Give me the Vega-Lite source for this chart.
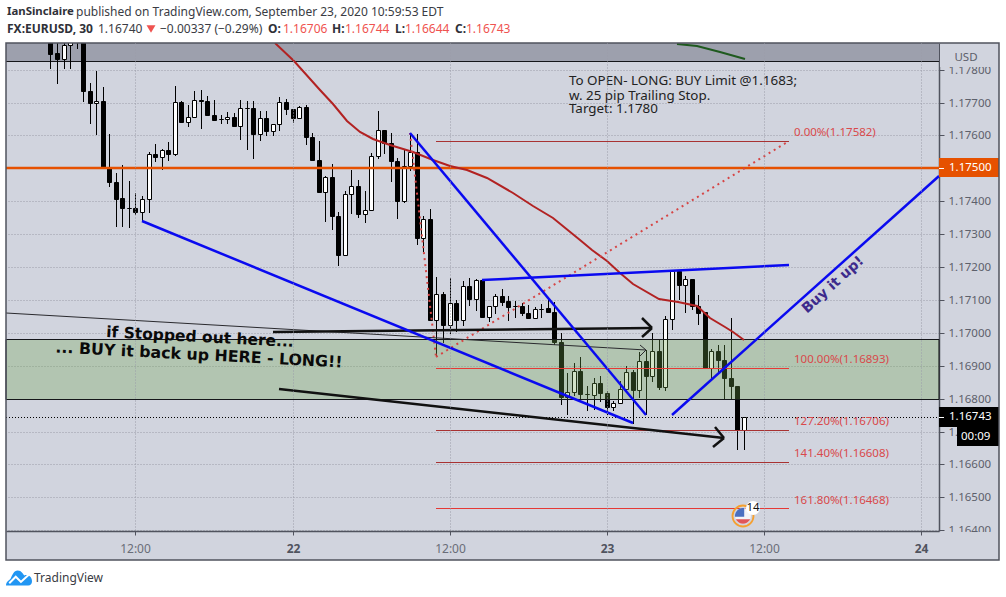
{"$schema":"https://vega.github.io/schema/vega-lite/v6.json","width":933,"height":488,"autosize":"none","padding":{"left":6,"top":43,"right":67,"bottom":66},"background":"#d1d4de","view":{"stroke":null,"fill":null},"datasets":{"white":[{"t":1.646,"t2":78.52,"p":1.180116,"p2":1.178809},{"t":1.646,"t2":78.52,"p":1.163094,"p2":1.16197},{"t":1.646,"t2":2.105,"p":1.180116,"p2":1.16197},{"t":77.99,"t2":78.52,"p":1.180116,"p2":1.16197}],"covers":[{"t":73.48,"t2":77.9,"p":1.17879,"p2":1.17809},{"t":73.48,"t2":77.9,"p":1.16396,"p2":1.16314}],"candles":[{"t":5.5,"o":1.17922,"h":1.17937,"l":1.17803,"c":1.17847},{"t":6,"o":1.17849,"h":1.17891,"l":1.17755,"c":1.17831},{"t":6.5,"o":1.17833,"h":1.17892,"l":1.17802,"c":1.17874},{"t":7,"o":1.17874,"h":1.17907,"l":1.17802,"c":1.17892},{"t":7.5,"o":1.17895,"h":1.17922,"l":1.17864,"c":1.179},{"t":8,"o":1.17892,"h":1.17907,"l":1.17701,"c":1.17734},{"t":8.5,"o":1.17735,"h":1.17758,"l":1.17634,"c":1.17698},{"t":9,"o":1.17698,"h":1.17797,"l":1.176,"c":1.17705},{"t":9.5,"o":1.17705,"h":1.17748,"l":1.17501,"c":1.17501},{"t":10,"o":1.17501,"h":1.17603,"l":1.17442,"c":1.17458},{"t":10.5,"o":1.17459,"h":1.17487,"l":1.17321,"c":1.17408},{"t":11,"o":1.1741,"h":1.17511,"l":1.17321,"c":1.17378},{"t":11.5,"o":1.1738,"h":1.17461,"l":1.17318,"c":1.17379},{"t":12,"o":1.1738,"h":1.17425,"l":1.17359,"c":1.17366},{"t":12.5,"o":1.17366,"h":1.17417,"l":1.17339,"c":1.17407},{"t":13,"o":1.17407,"h":1.17549,"l":1.17363,"c":1.17545},{"t":13.5,"o":1.17545,"h":1.17574,"l":1.17518,"c":1.17534},{"t":14,"o":1.17535,"h":1.1756,"l":1.17496,"c":1.17556},{"t":14.5,"o":1.17556,"h":1.1758,"l":1.17523,"c":1.17543},{"t":15,"o":1.17544,"h":1.17751,"l":1.17537,"c":1.17702},{"t":15.5,"o":1.17702,"h":1.17706,"l":1.1764,"c":1.1764},{"t":16,"o":1.1764,"h":1.17691,"l":1.17625,"c":1.17656},{"t":16.5,"o":1.17656,"h":1.17736,"l":1.17656,"c":1.17708},{"t":17,"o":1.17708,"h":1.17739,"l":1.17621,"c":1.17705},{"t":17.5,"o":1.17705,"h":1.1772,"l":1.17661,"c":1.17661},{"t":18,"o":1.17662,"h":1.17709,"l":1.17648,"c":1.17648},{"t":18.5,"o":1.1765,"h":1.17662,"l":1.17636,"c":1.17649},{"t":19,"o":1.1765,"h":1.1767,"l":1.17636,"c":1.17656},{"t":19.5,"o":1.17657,"h":1.17668,"l":1.17628,"c":1.17628},{"t":20,"o":1.17628,"h":1.17709,"l":1.17587,"c":1.17684},{"t":20.5,"o":1.17684,"h":1.17704,"l":1.17557,"c":1.17683},{"t":21,"o":1.17684,"h":1.17704,"l":1.17527,"c":1.17603},{"t":21.5,"o":1.17605,"h":1.17673,"l":1.17582,"c":1.17653},{"t":22,"o":1.17654,"h":1.17673,"l":1.17599,"c":1.17612},{"t":22.5,"o":1.17613,"h":1.17635,"l":1.17599,"c":1.17635},{"t":23,"o":1.17635,"h":1.17717,"l":1.17613,"c":1.17702},{"t":23.5,"o":1.17702,"h":1.17711,"l":1.17661,"c":1.17679},{"t":24,"o":1.17681,"h":1.17681,"l":1.17637,"c":1.17652},{"t":24.5,"o":1.17652,"h":1.1769,"l":1.17652,"c":1.17687},{"t":25,"o":1.17687,"h":1.17691,"l":1.1757,"c":1.17594},{"t":25.5,"o":1.17596,"h":1.17608,"l":1.17524,"c":1.17524},{"t":26,"o":1.17526,"h":1.17584,"l":1.17425,"c":1.17427},{"t":26.5,"o":1.17427,"h":1.17476,"l":1.17336,"c":1.17474},{"t":27,"o":1.17474,"h":1.17514,"l":1.17312,"c":1.17354},{"t":27.5,"o":1.17356,"h":1.17368,"l":1.17202,"c":1.17236},{"t":28,"o":1.17236,"h":1.1743,"l":1.17236,"c":1.17422},{"t":28.5,"o":1.17422,"h":1.17496,"l":1.17361,"c":1.17447},{"t":29,"o":1.17447,"h":1.17466,"l":1.17349,"c":1.1736},{"t":29.5,"o":1.1736,"h":1.17431,"l":1.17333,"c":1.17374},{"t":30,"o":1.17373,"h":1.17547,"l":1.17369,"c":1.17538},{"t":30.5,"o":1.17538,"h":1.17675,"l":1.17529,"c":1.17617},{"t":31,"o":1.17617,"h":1.17617,"l":1.17542,"c":1.17576},{"t":31.5,"o":1.17577,"h":1.17608,"l":1.17458,"c":1.17521},{"t":32,"o":1.17523,"h":1.17532,"l":1.17345,"c":1.174},{"t":32.5,"o":1.174,"h":1.17559,"l":1.17394,"c":1.17507},{"t":33,"o":1.17507,"h":1.17608,"l":1.17491,"c":1.1755},{"t":33.5,"o":1.1755,"h":1.17603,"l":1.17267,"c":1.17288},{"t":34,"o":1.17288,"h":1.17356,"l":1.17246,"c":1.17346},{"t":34.5,"o":1.17346,"h":1.17377,"l":1.17038,"c":1.17038},{"t":35,"o":1.17038,"h":1.1717,"l":1.16925,"c":1.17118},{"t":35.5,"o":1.17118,"h":1.17125,"l":1.16969,"c":1.17025},{"t":36,"o":1.17025,"h":1.17167,"l":1.16995,"c":1.17091},{"t":36.5,"o":1.17091,"h":1.17101,"l":1.17002,"c":1.1704},{"t":37,"o":1.1704,"h":1.17158,"l":1.17022,"c":1.17143},{"t":37.5,"o":1.17143,"h":1.17167,"l":1.17081,"c":1.17104},{"t":38,"o":1.17104,"h":1.17164,"l":1.17065,"c":1.17161},{"t":38.5,"o":1.17161,"h":1.17161,"l":1.17047,"c":1.17047},{"t":39,"o":1.17047,"h":1.17083,"l":1.17032,"c":1.17081},{"t":39.5,"o":1.17081,"h":1.17119,"l":1.17058,"c":1.17112},{"t":40,"o":1.17112,"h":1.17134,"l":1.17081,"c":1.17094},{"t":40.5,"o":1.17097,"h":1.17111,"l":1.17035,"c":1.17078},{"t":41,"o":1.17081,"h":1.17097,"l":1.17045,"c":1.1708},{"t":41.5,"o":1.17082,"h":1.17091,"l":1.1705,"c":1.17059},{"t":42,"o":1.1706,"h":1.17086,"l":1.17044,"c":1.17044},{"t":42.5,"o":1.17044,"h":1.17077,"l":1.17044,"c":1.17071},{"t":43,"o":1.17072,"h":1.17089,"l":1.17044,"c":1.17071},{"t":43.5,"o":1.17074,"h":1.17106,"l":1.17062,"c":1.17062},{"t":44,"o":1.17064,"h":1.17093,"l":1.16964,"c":1.16971},{"t":44.5,"o":1.16972,"h":1.16998,"l":1.16782,"c":1.16805},{"t":45,"o":1.16805,"h":1.16878,"l":1.16751,"c":1.16819},{"t":45.5,"o":1.16819,"h":1.16908,"l":1.16809,"c":1.16884},{"t":46,"o":1.16884,"h":1.16927,"l":1.16799,"c":1.16813},{"t":46.5,"o":1.16814,"h":1.16837,"l":1.16761,"c":1.16813},{"t":47,"o":1.16811,"h":1.16862,"l":1.16764,"c":1.16848},{"t":47.5,"o":1.16848,"h":1.1687,"l":1.16789,"c":1.16816},{"t":48,"o":1.16817,"h":1.16822,"l":1.16749,"c":1.16774},{"t":48.5,"o":1.16774,"h":1.16793,"l":1.16763,"c":1.16787},{"t":49,"o":1.16787,"h":1.16853,"l":1.16787,"c":1.16829},{"t":49.5,"o":1.16829,"h":1.16898,"l":1.16829,"c":1.16881},{"t":50,"o":1.16882,"h":1.16886,"l":1.16723,"c":1.16825},{"t":50.5,"o":1.16825,"h":1.16943,"l":1.16802,"c":1.16915},{"t":51,"o":1.16915,"h":1.16949,"l":1.16749,"c":1.16868},{"t":51.5,"o":1.16868,"h":1.17,"l":1.1685,"c":1.16945},{"t":52,"o":1.16945,"h":1.16977,"l":1.16825,"c":1.16834},{"t":52.5,"o":1.16834,"h":1.17052,"l":1.16822,"c":1.17042},{"t":53,"o":1.17042,"h":1.17192,"l":1.1701,"c":1.17187},{"t":53.5,"o":1.17187,"h":1.17192,"l":1.17101,"c":1.17144},{"t":54,"o":1.17144,"h":1.17174,"l":1.1706,"c":1.17164},{"t":54.5,"o":1.17164,"h":1.17164,"l":1.17068,"c":1.17081},{"t":55,"o":1.17083,"h":1.17116,"l":1.17025,"c":1.17061},{"t":55.5,"o":1.17064,"h":1.17064,"l":1.16894,"c":1.16894},{"t":56,"o":1.16894,"h":1.16951,"l":1.1686,"c":1.16945},{"t":56.5,"o":1.16945,"h":1.16964,"l":1.1688,"c":1.16916},{"t":57,"o":1.16918,"h":1.16964,"l":1.16799,"c":1.16862},{"t":57.5,"o":1.16864,"h":1.17045,"l":1.16795,"c":1.16837},{"t":58,"o":1.16839,"h":1.16839,"l":1.16645,"c":1.16706},{"t":58.5,"o":1.16706,"h":1.16744,"l":1.16644,"c":1.16743}],"ma":[{"t":22.66,"p":1.17882},{"t":24.11,"p":1.17827},{"t":26.1,"p":1.17739},{"t":27.09,"p":1.17694},{"t":28.14,"p":1.17643},{"t":29.15,"p":1.17609},{"t":30.15,"p":1.1759},{"t":31.45,"p":1.17572},{"t":33.21,"p":1.17549},{"t":34.73,"p":1.17524},{"t":36.03,"p":1.17506},{"t":37.33,"p":1.17496},{"t":38.86,"p":1.17472},{"t":40.85,"p":1.17426},{"t":42.37,"p":1.17385},{"t":43.9,"p":1.1735},{"t":45.96,"p":1.17281},{"t":46.86,"p":1.17253},{"t":48.01,"p":1.17217},{"t":49.02,"p":1.17183},{"t":50.02,"p":1.17147},{"t":52,"p":1.17104},{"t":53.45,"p":1.17093},{"t":54.88,"p":1.1708},{"t":55.9,"p":1.17046},{"t":57.05,"p":1.17019},{"t":57.66,"p":1.17001},{"t":58.5,"p":1.16977}],"ma2":[{"t":53.35,"p":1.17879},{"t":54.88,"p":1.17873},{"t":56.66,"p":1.17853},{"t":58.57,"p":1.17831}],"blue":[{"s":"a","t":12.52,"p":1.17339},{"s":"a","t":49.99,"p":1.16726},{"s":"b","t":33.01,"p":1.17607},{"s":"b","t":51.01,"p":1.16751},{"s":"c","t":38.5,"p":1.17161},{"s":"c","t":61.93,"p":1.17207},{"s":"d","t":52.97,"p":1.16751},{"s":"d","t":73.4,"p":1.17478}],"arrows":[{"s":"e","t":22.51,"p":1.17002},{"s":"e","t":51.44,"p":1.17015},{"s":"e1","t":50.68,"p":1.17045},{"s":"e1","t":51.44,"p":1.17015},{"s":"e2","t":50.68,"p":1.16986},{"s":"e2","t":51.44,"p":1.17015},{"s":"g","t":22.99,"p":1.16829},{"s":"g","t":56.97,"p":1.1668},{"s":"g1","t":56.3,"p":1.16713},{"s":"g1","t":56.97,"p":1.1668},{"s":"g2","t":56.15,"p":1.16653},{"s":"g2","t":56.97,"p":1.1668}],"thin":[{"s":"f","t":2.105,"p":1.1706},{"s":"f","t":51.01,"p":1.16949},{"s":"f1","t":50.55,"p":1.16964},{"s":"f1","t":51.01,"p":1.16949},{"s":"f2","t":50.55,"p":1.16931},{"s":"f2","t":51.01,"p":1.16949}],"dots":[{"s":"u","t":32.97,"p":1.17606},{"s":"u","t":34.96,"p":1.16925},{"s":"v","t":34.96,"p":1.16925},{"s":"v","t":61.93,"p":1.17584}],"fibBright":[{"t":35,"t2":61.97,"p":1.16893},{"t":35,"t2":61.97,"p":1.16468}],"fibDark":[{"t":35,"t2":61.97,"p":1.17582},{"t":35,"t2":61.97,"p":1.16706},{"t":35,"t2":61.97,"p":1.16608}],"fibText":[{"t":62.32,"p":1.17606,"label":"0.00%(1.17582)"},{"t":62.32,"p":1.16917,"label":"100.00%(1.16893)"},{"t":62.32,"p":1.1673,"label":"127.20%(1.16706)"},{"t":62.32,"p":1.16633,"label":"141.40%(1.16608)"},{"t":62.32,"p":1.1649,"label":"161.80%(1.16468)"}],"notes":[{"t":45.12,"p":1.17764,"label":"To OPEN- LONG: BUY Limit @1.1683;"},{"t":45.12,"p":1.17721,"label":"w. 25 pip Trailing Stop."},{"t":45.12,"p":1.17679,"label":"Target: 1.1780"}],"hdrBold":[{"t":2.158,"p":1.17923,"label":"FX:EURUSD, 30"},{"t":22.125,"p":1.17923,"label":"O:"},{"t":27.015,"p":1.17923,"label":"H:"},{"t":31.83,"p":1.17923,"label":"L:"},{"t":36.414,"p":1.17923,"label":"C:"}],"hdrNormal":[{"t":7.492,"p":1.17975,"label":"published on TradingView.com, September 23, 2020 10:59:53 EDT"},{"t":9.173,"p":1.17923,"label":"1.16740"},{"t":13.872,"p":1.17923,"label":"−0.00337 (−0.29%)"},{"t":4.244,"p":1.16254,"label":"TradingView"}],"hdrRed":[{"t":23.271,"p":1.17923,"label":"1.16706"},{"t":28.046,"p":1.17923,"label":"1.16744"},{"t":32.593,"p":1.17923,"label":"1.16644"},{"t":37.254,"p":1.17923,"label":"1.16743"}]},"encoding":{"x":{"field":"t","type":"quantitative","scale":{"domain":[2.105,73.4],"nice":false,"zero":false,"padding":0,"round":true},"title":null,"axis":{"values":[12,24,36,48,60,72],"labelExpr":"datum.value%24==0?''+(21+datum.value/24):'12:00'","labelFont":"Noto Sans","labelFontSize":12,"labelColor":{"condition":{"test":"datum.value%24==0","value":"#50535e"},"value":"#6a6d78"},"labelFontWeight":{"condition":{"test":"datum.value%24==0","value":"bold"},"value":"normal"},"labelPadding":8,"tickSize":4,"tickColor":"#50535e","domainColor":"#50535e","domainWidth":1.5,"gridColor":"#9a9da8","gridDash":[1,2],"gridOpacity":1,"zindex":1,"labelOverlap":false}},"y":{"field":"p","type":"quantitative","scale":{"domain":[1.163976,1.178809],"nice":false,"zero":false,"round":true},"title":null,"axis":{"orient":"right","values":[1.164,1.165,1.166,1.167,1.168,1.169,1.17,1.171,1.172,1.173,1.174,1.175,1.176,1.177,1.178],"format":".5f","labelFont":"Noto Sans","labelFontSize":11.5,"labelColor":"#5d606b","labelPadding":4,"tickSize":5,"tickColor":"#50535e","domainColor":"#50535e","domainWidth":1.5,"gridColor":"#9a9da8","gridDash":[1,2],"gridOpacity":1,"zindex":0,"labelOverlap":false,"labelBound":false}}},"layer":[{"data":{"name":"white"},"mark":{"type":"rect","fill":"#ffffff"},"encoding":{"x2":{"field":"t2"},"y2":{"field":"p2"}}},{"data":{"name":"covers"},"mark":{"type":"rect","fill":"#d1d4de"},"encoding":{"x2":{"field":"t2"},"y2":{"field":"p2"}}},{"data":{"values":[{"t":2.105,"t2":73.4,"p":1.178809,"p2":1.17827}]},"mark":{"type":"rect","fill":"#9da0ad"},"encoding":{"x2":{"field":"t2"},"y2":{"field":"p2"}}},{"data":{"values":[{"t":2.105,"t2":73.4,"p":1.17827}]},"mark":{"type":"rule","color":"#15161a","strokeWidth":1,"yOffset":0.5},"encoding":{"x2":{"field":"t2"}}},{"data":{"name":"candles"},"mark":{"type":"rule","color":"#000000","strokeWidth":1,"clip":true,"xOffset":0.5},"encoding":{"y":{"field":"l","type":"quantitative","scale":{"domain":[1.163976,1.178809],"nice":false,"zero":false,"round":true},"title":null},"y2":{"field":"h"}}},{"data":{"name":"candles"},"mark":{"type":"bar","size":4,"stroke":"#000000","strokeWidth":1,"clip":true,"xOffset":0.5,"yOffset":0.5,"y2Offset":0.5},"encoding":{"y":{"field":"o","type":"quantitative","scale":{"domain":[1.163976,1.178809],"nice":false,"zero":false,"round":true},"title":null},"y2":{"field":"c"},"fill":{"condition":{"test":"datum.c>=datum.o","value":"#ffffff"},"value":"#000000"}}},{"data":{"values":[{"t":2.105,"t2":73.4,"p":1.16981,"p2":1.16798}]},"mark":{"type":"rect","fill":"#6ea54d","fillOpacity":0.31,"stroke":"#15161a","strokeWidth":1,"yOffset":0.5,"y2Offset":0.5},"encoding":{"x2":{"field":"t2"},"y2":{"field":"p2"}}},{"data":{"values":[{"t":2.105,"t2":73.4,"p":1.175}]},"mark":{"type":"rule","color":"#e65100","strokeWidth":2.5},"encoding":{"x2":{"field":"t2"}}},{"data":{"values":[{"t":2.105,"t2":73.4,"p":1.16743}]},"mark":{"type":"rule","color":"#000000","strokeWidth":1,"strokeDash":[1,2],"yOffset":0.5},"encoding":{"x2":{"field":"t2"}}},{"data":{"name":"fibBright"},"mark":{"type":"rule","color":"#e53935","strokeWidth":1,"yOffset":0.5},"encoding":{"x2":{"field":"t2"}}},{"data":{"name":"fibDark"},"mark":{"type":"rule","color":"#a83232","strokeWidth":1,"yOffset":0.5},"encoding":{"x2":{"field":"t2"}}},{"data":{"name":"ma"},"mark":{"type":"line","color":"#b22222","strokeWidth":2,"clip":true}},{"data":{"name":"ma2"},"mark":{"type":"line","color":"#1f5a1f","strokeWidth":2,"clip":true}},{"data":{"name":"dots"},"mark":{"type":"line","color":"#d64545","strokeWidth":2,"strokeDash":[2,4]},"encoding":{"detail":{"field":"s"}}},{"data":{"name":"thin"},"mark":{"type":"line","color":"#2a2a2e","strokeWidth":1},"encoding":{"detail":{"field":"s"}}},{"data":{"name":"arrows"},"mark":{"type":"line","color":"#111111","strokeWidth":2.5},"encoding":{"detail":{"field":"s"}}},{"data":{"name":"blue"},"mark":{"type":"line","color":"#0a0af0","strokeWidth":2.5},"encoding":{"detail":{"field":"s"}}},{"data":{"name":"fibText"},"mark":{"type":"text","align":"left","baseline":"middle","font":"Noto Sans","fontSize":11.5,"color":"#d9494b"},"encoding":{"text":{"field":"label"}}},{"data":{"name":"notes"},"mark":{"type":"text","align":"left","baseline":"middle","font":"Noto Sans","fontSize":13.4,"color":"#222222"},"encoding":{"text":{"field":"label"}}},{"data":{"values":[{"t":16.93,"p":1.16987,"label":"if Stopped out here..."}]},"mark":{"type":"text","align":"center","baseline":"middle","font":"DejaVu Sans","fontWeight":"bold","fontSize":15.5,"angle":3,"color":"#0a0a0a"},"encoding":{"text":{"field":"label"}}},{"data":{"values":[{"t":16.89,"p":1.16933,"label":"... BUY it back up HERE - LONG!!"}]},"mark":{"type":"text","align":"center","baseline":"middle","font":"DejaVu Sans","fontWeight":"bold","fontSize":15.8,"angle":3,"color":"#0a0a0a"},"encoding":{"text":{"field":"label"}}},{"data":{"values":[{"t":65.3,"p":1.17144,"label":"Buy it up!"}]},"mark":{"type":"text","align":"center","baseline":"middle","font":"DejaVu Sans","fontWeight":"bold","fontSize":14,"angle":-42,"color":"#3d2a8c"},"encoding":{"text":{"field":"label"}}},{"data":{"values":[{"t":58.4,"p":1.16442}]},"mark":{"type":"point","shape":"circle","size":441,"filled":false,"stroke":"#f5a030","strokeWidth":1.8,"opacity":1}},{"data":{"values":[{"t":58.4,"p":1.16442}]},"mark":{"type":"point","shape":"circle","size":256,"filled":true,"fill":"#f2f2f6","opacity":1}},{"data":{"values":[{"t":58.4,"p":1.16442}]},"mark":{"type":"point","shape":"M-1,0.1 A1,1 0 0 1 -0.1,-1 L0.15,-1 L0.15,0.1 Z","size":256,"filled":true,"fill":"#4a6fc0","opacity":1}},{"data":{"values":[{"t":58.4,"p":1.16442}]},"mark":{"type":"point","shape":"M-0.9,0.42 L0.9,0.42 A1,1 0 0 1 -0.9,0.42 Z","size":256,"filled":true,"fill":"#e0565a","opacity":1}},{"data":{"values":[{"t":59.21,"p":1.16466}]},"mark":{"type":"point","shape":"circle","size":196,"filled":true,"fill":"#ffffff","opacity":1}},{"data":{"values":[{"t":59.21,"p":1.16466,"label":"14"}]},"mark":{"type":"text","align":"center","baseline":"middle","font":"Noto Sans","fontSize":11.5,"color":"#111111"},"encoding":{"text":{"field":"label"}}},{"data":{"values":[{"t":73.4,"t2":77.99,"p":1.1753,"p2":1.17473}]},"mark":{"type":"rect","fill":"#e65100"},"encoding":{"x2":{"field":"t2"},"y2":{"field":"p2"}}},{"data":{"values":[{"t":73.4,"t2":77.99,"p":1.16773,"p2":1.16715},{"t":74.77,"t2":77.99,"p":1.16713,"p2":1.16655}]},"mark":{"type":"rect","fill":"#000000"},"encoding":{"x2":{"field":"t2"},"y2":{"field":"p2"}}},{"data":{"values":[{"t":73.4,"t2":73.78,"p":1.175},{"t":73.4,"t2":73.78,"p":1.16743}]},"mark":{"type":"rule","color":"#ffffff","strokeWidth":1,"yOffset":0.5},"encoding":{"x2":{"field":"t2"}}},{"data":{"values":[{"t":74.14,"p":1.175,"label":"1.17500"},{"t":74.14,"p":1.16743,"label":"1.16743"},{"t":75.08,"p":1.16682,"label":"00:09"}]},"mark":{"type":"text","align":"left","baseline":"middle","font":"Noto Sans","fontSize":11.5,"color":"#ffffff"},"encoding":{"text":{"field":"label"}}},{"data":{"values":[{"t":75.44,"p":1.17836,"label":"USD"}]},"mark":{"type":"text","align":"center","baseline":"middle","font":"Noto Sans","fontSize":11.5,"color":"#5d606b"},"encoding":{"text":{"field":"label"}}},{"data":{"values":[{"t":2.105,"t2":77.99,"p":1.178809,"p2":1.163094}]},"mark":{"type":"rect","fill":null,"stroke":"#50535e","strokeWidth":1.5},"encoding":{"x2":{"field":"t2"},"y2":{"field":"p2"}}},{"data":{"values":[{"t":2.158,"p":1.17975,"label":"IanSinclaire"}]},"mark":{"type":"text","align":"left","baseline":"middle","font":"Noto Sans","fontWeight":"bold","fontSize":11.4,"color":"#2f3138"},"encoding":{"text":{"field":"label"}}},{"data":{"name":"hdrBold"},"mark":{"type":"text","align":"left","baseline":"middle","font":"Noto Sans","fontWeight":"bold","fontSize":12,"color":"#2f3138"},"encoding":{"text":{"field":"label"}}},{"data":{"name":"hdrNormal"},"mark":{"type":"text","align":"left","baseline":"middle","font":"Noto Sans","fontSize":12,"color":"#3a3c44"},"encoding":{"text":{"field":"label"}}},{"data":{"name":"hdrRed"},"mark":{"type":"text","align":"left","baseline":"middle","font":"Noto Sans","fontSize":12,"color":"#ef5350"},"encoding":{"text":{"field":"label"}}},{"data":{"values":[{"t":13.223,"p":1.17923}]},"mark":{"type":"point","shape":"triangle-down","size":80,"filled":true,"fill":"#ef5350","opacity":1}},{"data":{"values":[{"t":3.098,"p":1.16254}]},"mark":{"type":"point","shape":"M-1,0.58 C-1,0.3 -0.8,0.2 -0.65,0.05 C-0.5,-0.25 -0.4,-0.58 -0.1,-0.58 C0.2,-0.58 0.3,-0.3 0.4,-0.2 C0.7,-0.3 1,-0.1 1,0.25 C1,0.45 0.9,0.58 0.7,0.58 Z","size":676,"filled":true,"fill":"#2196f3","opacity":1}},{"data":{"values":[{"t":3.098,"p":1.16254}]},"mark":{"type":"point","shape":"M-0.75,0.4 L-0.25,-0.1 L0.15,0.3 L0.75,-0.25","size":676,"filled":false,"stroke":"#ffffff","strokeWidth":2,"opacity":1}}]}
